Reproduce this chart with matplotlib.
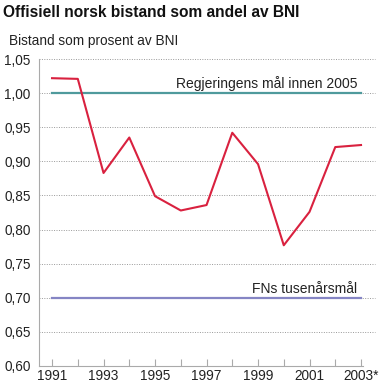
import matplotlib
matplotlib.use("Agg")
import matplotlib.pyplot as plt

years = list(range(1991, 2004))
bistand = [1.022, 1.021, 0.883, 0.935, 0.849, 0.828, 0.836, 0.942, 0.896, 0.777, 0.826, 0.921, 0.924]
xlabels = ["1991", "1993", "1995", "1997", "1999", "2001", "2003*"]
yticks = [0.60, 0.65, 0.70, 0.75, 0.80, 0.85, 0.90, 0.95, 1.00, 1.05]
maal_regjering = 1.00
maal_fn = 0.70

plt.rcParams['font.family'] = ['Liberation Sans', 'DejaVu Sans']

fig = plt.figure(figsize=(3.79, 3.87), dpi=100)
ax = fig.add_axes([0.103, 0.0543, 0.855, 0.793])

ax.set_xlim(1990.495, 2003.08)
ax.set_ylim(0.60, 1.05)

# dotted grid, runs a bit past the axis on the right
for v in yticks[1:]:
    ax.axhline(v, xmin=0, xmax=1.037, color='#999999', lw=0.7, ls=(0, (1, 1.5)), clip_on=False, zorder=1)

ax.plot([years[0], years[-1]], [maal_regjering] * 2, color='#4f9a9c', lw=1.6, zorder=2)
ax.plot([years[0], years[-1]], [maal_fn] * 2, color='#8585c4', lw=1.6, zorder=2)
ax.plot(years, bistand, color='#d9213f', lw=1.5, zorder=3)

ax.text(2002.85, 1.003, "Regjeringens mål innen 2005", ha='right', va='bottom', fontsize=10, color='#222222')
ax.text(2002.85, 0.703, "FNs tusenårsmål", ha='right', va='bottom', fontsize=10, color='#222222')

ax.set_yticks(yticks)
ax.set_yticklabels([f"{v:.2f}".replace('.', ',') for v in yticks])
ax.set_xticks(years)
ax.set_xticklabels([xlabels[(y - 1991) // 2] if (y - 1991) % 2 == 0 else "" for y in years])

ax.tick_params(axis='y', length=0, labelsize=9.8, pad=6, colors='#222222')
ax.tick_params(axis='x', direction='in', length=5, color='#aaaaaa', labelsize=9.8, pad=2, labelcolor='#222222')

for s in ['top', 'right']:
    ax.spines[s].set_visible(False)
ax.spines['left'].set_color('#aaaaaa')
ax.spines['bottom'].set_color('#aaaaaa')

fig.text(0.008, 0.968, "Offisiell norsk bistand som andel av BNI", fontsize=11.2, fontweight='bold', va='center', ha='left', color='#111111')
fig.text(0.024, 0.895, "Bistand som prosent av BNI", fontsize=9.8, va='center', ha='left', color='#222222')

fig.savefig("out.png", dpi=100)
